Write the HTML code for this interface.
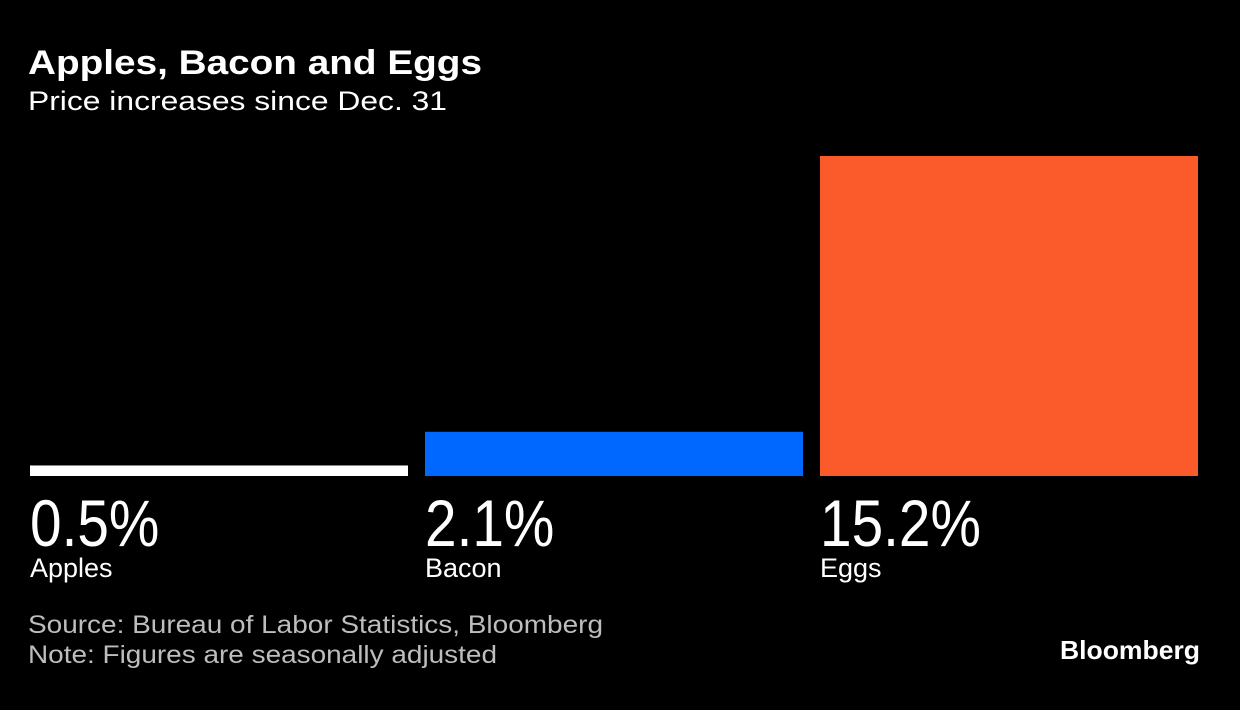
<!DOCTYPE html>
<html><head><meta charset="utf-8">
<style>
html,body{margin:0;padding:0;background:#000;}
svg{display:block;font-family:"Liberation Sans",sans-serif;}
</style></head>
<body>
<svg id="chart" width="1240" height="710" viewBox="0 0 1240 710">
<rect x="0" y="0" width="1240" height="710" fill="#000"/>
<text x="28" y="74" fill="#fff" font-size="34" font-weight="bold" textLength="454" lengthAdjust="spacingAndGlyphs">Apples, Bacon and Eggs</text>
<text x="28" y="110" fill="#fff" font-size="27" textLength="419" lengthAdjust="spacingAndGlyphs">Price increases since Dec. 31</text>
<g id="bars"></g>
<text x="28" y="633" fill="#bdbdbd" font-size="25" textLength="575" lengthAdjust="spacingAndGlyphs">Source: Bureau of Labor Statistics, Bloomberg</text>
<text x="28" y="663" fill="#bdbdbd" font-size="25" textLength="469" lengthAdjust="spacingAndGlyphs">Note: Figures are seasonally adjusted</text>
<text x="1060" y="659" fill="#fff" font-size="26" font-weight="bold" textLength="140" lengthAdjust="spacingAndGlyphs">Bloomberg</text>
</svg>
<script>
const categories = ["Apples", "Bacon", "Eggs"];
const values = [0.5, 2.1, 15.2];
const valueLabels = ["0.5%", "2.1%", "15.2%"];
const colors = ["#ffffff", "#0068ff", "#fb5b2a"];

const NS = "http://www.w3.org/2000/svg";
const baseY = 476, maxH = 320, maxV = 15.2;
const x0 = 30, barW = 378, gap = 17;
function yScale(v){ return baseY - v / maxV * maxH; }
function xScale(i){ return x0 + i * (barW + gap); }
const g = document.getElementById("bars");
categories.forEach((c, i) => {
  const x = xScale(i);
  const r = document.createElementNS(NS, "rect");
  r.setAttribute("x", x);
  r.setAttribute("y", yScale(values[i]));
  r.setAttribute("width", barW);
  r.setAttribute("height", baseY - yScale(values[i]));
  r.setAttribute("fill", colors[i]);
  
  
  g.appendChild(r);
  const t = document.createElementNS(NS, "text");
  t.setAttribute("transform", "translate(" + x + ",546) scale(0.86,1)");
  t.setAttribute("fill", "#fff");
  t.setAttribute("font-size", "66");
  t.textContent = valueLabels[i];
  
  
  g.appendChild(t);
  const l = document.createElementNS(NS, "text");
  l.setAttribute("x", x);
  l.setAttribute("y", 577);
  l.setAttribute("fill", "#fff");
  l.setAttribute("font-size", "27");
  l.textContent = c;
  
  
  g.appendChild(l);
});
</script>
</body></html>
